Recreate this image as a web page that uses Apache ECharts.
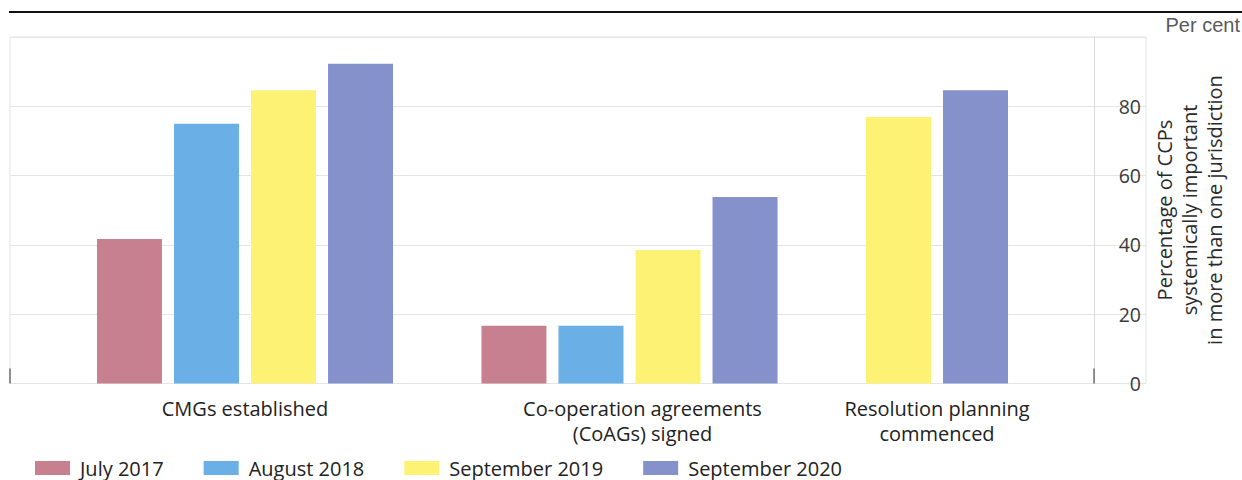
<!DOCTYPE html>
<html>
<head>
<meta charset="utf-8">
<style>
  html, body { margin: 0; padding: 0; background: #ffffff; }
  #chart { width: 1242px; height: 480px; }
</style>
<script src="https://cdn.jsdelivr.net/npm/echarts@6/dist/echarts.min.js"></script>
</head>
<body>
<div id="chart"></div>
<script>
// Milestones tracked for CCPs systemically important in more than one jurisdiction
const categories = [
  'CMGs established',
  'Co-operation agreements\n(CoAGs) signed',
  'Resolution planning\ncommenced'
];
const seriesNames = ['July 2017', 'August 2018', 'September 2019', 'September 2020'];
// Per cent, one value per category (null = not surveyed)
const july2017 = [41.7, 16.7, null];
const august2018 = [75.0, 16.7, null];
const september2019 = [84.6, 38.5, 76.9];
const september2020 = [92.3, 53.8, 84.6];
const yTicks = [0, 20, 40, 60, 80];

const seriesValues = [july2017, august2018, september2019, september2020];
const colors = ['#C7808F', '#6AB0E6', '#FEF274', '#8591CB'];

const FONT = '"Open Sans", "Noto Sans", sans-serif';
const TOP = 37, HEIGHT = 346.5;

// Each milestone gets its own panel so groups can hold a different number of bars
const panels = [
  { left: 10, width: 470, pad: 0 },
  { left: 480, width: 299, pad: 26 },
  { left: 779, width: 316, pad: 0 }
];

const grids = [
  // background panel carrying gridlines and the value labels
  { left: 10, top: TOP, width: 1136, height: HEIGHT, show: true, borderColor: '#e2e2e2', borderWidth: 1 },
  // frame for the end ticks and the divider on the right
  { left: 10, top: TOP, width: 1084, height: HEIGHT }
];
const xAxes = [
  { gridIndex: 0, type: 'category', data: [''], show: false },
  {
    gridIndex: 1, type: 'category', data: [''],
    axisLine: { show: false },
    axisTick: { show: true, inside: true, length: 15, lineStyle: { color: '#6e6e6e', width: 1.5 } },
    axisLabel: { show: false }
  }
];
const yAxes = [
  {
    gridIndex: 0, type: 'value', position: 'right', min: 0, max: 100, interval: 20,
    axisLine: { show: false }, axisTick: { show: false },
    axisLabel: {
      inside: true, margin: 5, fontSize: 19.5, color: '#3a3a3a', fontFamily: FONT,
      formatter: v => (yTicks.indexOf(v) >= 0 ? String(v) : '')
    },
    splitLine: { lineStyle: { color: '#e4e4e4', width: 1 } }
  },
  {
    gridIndex: 1, type: 'value', position: 'right', min: 0, max: 100, interval: 20,
    axisLine: { show: true, lineStyle: { color: '#dadada', width: 1 } },
    axisTick: { show: false }, axisLabel: { show: false }, splitLine: { show: false }
  }
];
const series = [];

categories.forEach((cat, ci) => {
  const p = panels[ci];
  const gi = grids.length;
  grids.push({ left: p.left, top: TOP, width: p.width, height: HEIGHT });
  xAxes.push({
    gridIndex: gi, type: 'category', data: [cat],
    axisLine: { show: false }, axisTick: { show: false },
    axisLabel: {
      interval: 0, margin: 12, fontSize: 20, lineHeight: 25, color: '#222222',
      fontFamily: FONT, padding: [0, 0, 0, p.pad]
    }
  });
  yAxes.push({ gridIndex: gi, type: 'value', min: 0, max: 100, interval: 20, show: false, splitLine: { show: false } });
  seriesValues.forEach((vals, si) => {
    if (vals[ci] === null) return;
    series.push({
      type: 'bar',
      name: seriesNames[si],
      xAxisIndex: gi,
      yAxisIndex: gi,
      data: [vals[ci]],
      barWidth: 65,
      barGap: '18.5%',
      itemStyle: { color: colors[si] },
      emphasis: { disabled: true },
      animation: false
    });
  });
});

const chart = echarts.init(document.getElementById('chart'), null, { renderer: 'svg' });
chart.setOption({
  animation: false,
  color: colors,
  grid: grids,
  xAxis: xAxes,
  yAxis: yAxes,
  series: series,
  legend: {
    data: seriesNames,
    left: 30,
    top: 453,
    icon: 'rect',
    itemWidth: 35,
    itemHeight: 14,
    itemGap: 40,
    selectedMode: false,
    textStyle: { fontSize: 20, color: '#222222', fontFamily: FONT, padding: [0, 0, 0, 5] }
  },
  graphic: [
    {
      type: 'line',
      shape: { x1: 9, y1: 12, x2: 1242, y2: 12 },
      style: { stroke: '#111111', lineWidth: 2 }
    },
    {
      type: 'text',
      right: 2,
      top: 15,
      style: { text: 'Per cent', fontSize: 20, fill: '#5a5a5a', fontFamily: '"Liberation Sans", Arial, sans-serif' }
    },
    {
      type: 'text',
      x: 1189,
      y: 210,
      rotation: Math.PI / 2,
      style: {
        text: 'Percentage of CCPs\nsystemically important\nin more than one jurisdiction',
        fontSize: 20,
        lineHeight: 25,
        fill: '#2a2a2a',
        fontFamily: FONT,
        align: 'center',
        verticalAlign: 'middle'
      }
    }
  ]
});
</script>
</body>
</html>
